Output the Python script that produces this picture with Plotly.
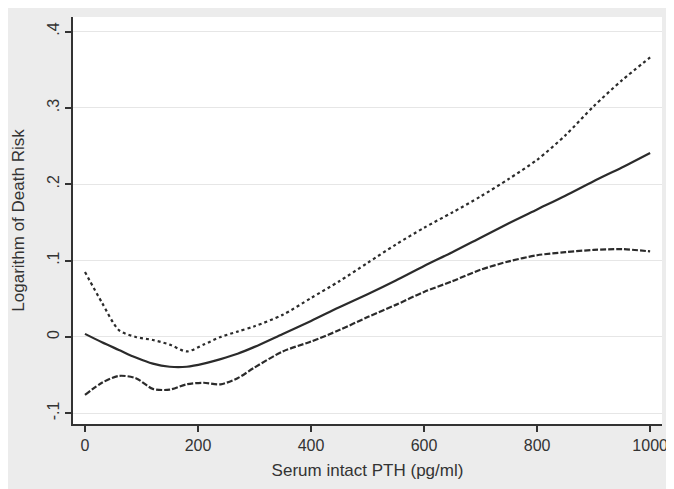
import plotly.graph_objects as go

pth = [0, 30, 60, 90, 120, 150, 180, 210, 240, 270, 300, 350, 400, 450, 500,
       550, 600, 650, 700, 750, 800, 850, 900, 950, 1000]
estimate = [0.004, -0.007, -0.017, -0.027, -0.035, -0.039, -0.039, -0.035, -0.029,
            -0.022, -0.013, 0.004, 0.021, 0.039, 0.056, 0.074, 0.093, 0.111,
            0.130, 0.149, 0.167, 0.185, 0.204, 0.222, 0.241]
upper = [0.085, 0.045, 0.009, 0.0, -0.004, -0.010, -0.019, -0.010, 0.0, 0.007,
         0.014, 0.029, 0.051, 0.073, 0.097, 0.121, 0.143, 0.163, 0.184, 0.207,
         0.232, 0.264, 0.302, 0.336, 0.366]
lower = [-0.076, -0.060, -0.051, -0.054, -0.068, -0.069, -0.062, -0.060, -0.062,
         -0.054, -0.040, -0.019, -0.006, 0.009, 0.026, 0.042, 0.059, 0.073,
         0.088, 0.099, 0.107, 0.111, 0.114, 0.115, 0.112]

x_ticks = [0, 200, 400, 600, 800, 1000]
y_ticks = [-0.1, 0, 0.1, 0.2, 0.3, 0.4]
y_tick_labels = ["-.1", "0", ".1", ".2", ".3", ".4"]

line_color = "#2b2b2b"
fig = go.Figure()
fig.add_trace(go.Scatter(x=pth, y=upper, mode="lines",
                         line=dict(color=line_color, width=2.2, dash="dot", shape="spline", smoothing=0.8)))
fig.add_trace(go.Scatter(x=pth, y=estimate, mode="lines",
                         line=dict(color=line_color, width=2.2, shape="spline", smoothing=0.8)))
fig.add_trace(go.Scatter(x=pth, y=lower, mode="lines",
                         line=dict(color=line_color, width=2.2, dash="6px,2px", shape="spline", smoothing=0.8)))

gray = "#ececec"
fig.update_layout(
    width=666, height=481,
    margin=dict(l=65, r=12, t=9, b=65),
    paper_bgcolor=gray, plot_bgcolor="white",
    showlegend=False,
    font=dict(family="Liberation Sans, Arial, sans-serif", size=14, color="#333333"),
)
fig.update_xaxes(range=[-21.2, 1021], tickvals=x_ticks, ticks="outside", ticklen=6,
                 tickwidth=1.5, tickcolor="#333", showline=True, linecolor="#333",
                 linewidth=1.5, showgrid=False, zeroline=False, automargin=False,
                 title=dict(text="Serum intact PTH (pg/ml)", standoff=11),
                 tickfont=dict(size=16))
fig.update_yaxes(range=[-0.114, 0.419], tickvals=y_ticks, ticktext=y_tick_labels,
                 tickangle=-90, ticks="outside", ticklen=6, tickwidth=1.5,
                 tickcolor="#333", showline=True, linecolor="#333", linewidth=1.5,
                 showgrid=True, gridcolor="#e6e6e6", gridwidth=1, zeroline=False,
                 automargin=False,
                 title=dict(text="Logarithm of Death Risk", standoff=16),
                 tickfont=dict(size=16))
fig.write_html("out.html")
